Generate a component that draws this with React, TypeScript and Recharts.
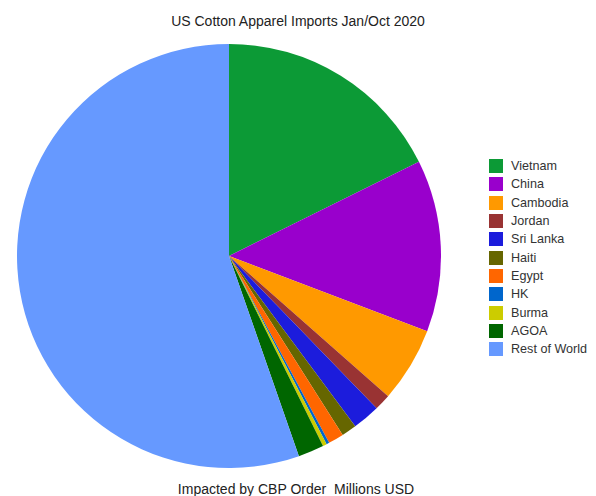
import { PieChart, Pie, Cell } from 'recharts';

const countries = ['Vietnam', 'China', 'Cambodia', 'Jordan', 'Sri Lanka', 'Haiti', 'Egypt', 'HK', 'Burma', 'AGOA', 'Rest of World'];
// Millions USD
const imports = [4950, 3670, 1600, 350, 590, 320, 330, 60, 85, 550, 15500];
const colors = ['#0c9a36', '#9900cc', '#ff9900', '#993333', '#1c1cdc', '#666600', '#ff6600', '#0066cc', '#cccc00', '#006600', '#6699ff'];

const chartData = countries.map((name, i) => ({ name, value: imports[i], color: colors[i] }));

const font = '"Liberation Sans", Arial, sans-serif';

export default function App() {
  return (
    <div style={{ position: 'absolute', left: 0, top: 0, width: 596, height: 496, background: '#fff', fontFamily: font }}>
      <PieChart width={596} height={496} margin={{ top: 0, right: 0, bottom: 0, left: 0 }}>
        <text x={298} y={26} textAnchor="middle" fontSize={14} fill="#222" fontFamily={font}>
          US Cotton Apparel Imports Jan/Oct 2020
        </text>
        <Pie
          data={chartData}
          dataKey="value"
          nameKey="name"
          cx={229}
          cy={256}
          outerRadius={212}
          startAngle={90}
          endAngle={-270}
          stroke="none"
          isAnimationActive={false}
        >
          {chartData.map((entry, index) => (
            <Cell key={`cell-${index}`} fill={entry.color} />
          ))}
        </Pie>
        <text x={296} y={494} textAnchor="middle" fontSize={14} fill="#222" fontFamily={font}>
          {'Impacted by CBP Order\u00a0\u00a0Millions USD'}
        </text>
      </PieChart>
      {/* legend kept in data order */}
      <div style={{ position: 'absolute', left: 489, top: 157 }}>
        {chartData.map((entry) => (
          <div key={entry.name} style={{ display: 'flex', alignItems: 'center', height: 18.3 }}>
            <span style={{ width: 14, height: 14, background: entry.color, display: 'inline-block', marginRight: 8 }} />
            <span style={{ fontSize: 12.6, color: '#333', lineHeight: '14px' }}>{entry.name}</span>
          </div>
        ))}
      </div>
    </div>
  );
}
